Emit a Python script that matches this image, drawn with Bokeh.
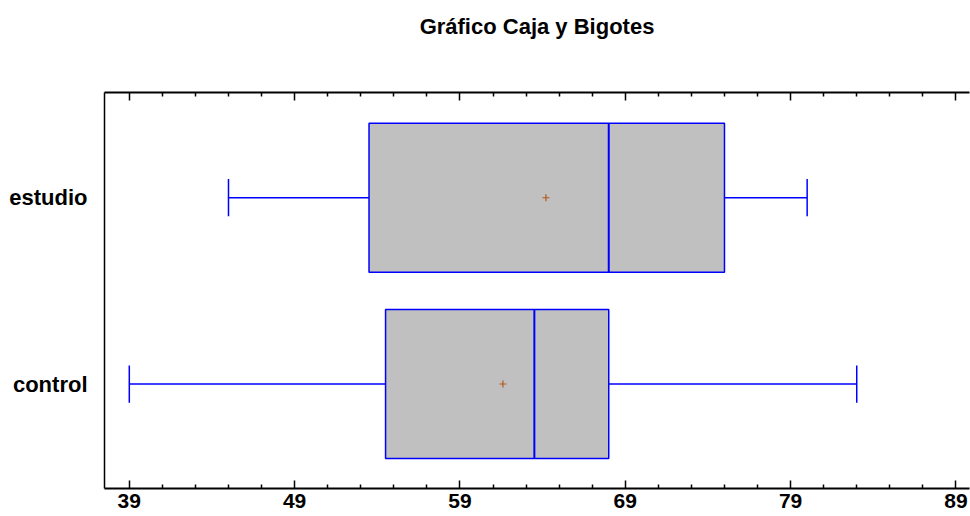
from bokeh.plotting import figure
from bokeh.models import FixedTicker, LinearAxis, Range1d
from bokeh.embed import file_html
from bokeh.resources import INLINE

# ---- data ----
categories = ["control", "estudio"]
cat_pos = [1, 2]
mins = [39, 45]
q1 = [54.5, 53.5]
medians = [63.5, 68]
q3 = [68, 75]
maxs = [83, 80]
means = [61.6, 64.2]
x_major_ticks = [39, 49, 59, 69, 79, 89]
x_minor_ticks = [41, 43, 45, 47, 51, 53, 55, 57, 61, 63, 65, 67, 71, 73, 75, 77, 81, 83, 85, 87]
title_text = "Gráfico Caja y Bigotes"

FONT = "Liberation Sans"
BLUE = "#0000FF"

p = figure(width=970, height=516, output_backend="svg", toolbar_location=None,
           x_range=Range1d(37.5, 89.82), y_range=Range1d(0.439, 2.565),
           min_border_left=104, min_border_right=1, min_border_top=92, min_border_bottom=28,
           title=None)
p.outline_line_color = None
p.grid.visible = False
p.background_fill_color = "white"
p.border_fill_color = "white"

box_h = 0.8
cap_h = 0.2

# whiskers
p.segment(x0=mins, y0=cat_pos, x1=q1, y1=cat_pos, line_color=BLUE, line_width=1.5)
p.segment(x0=q3, y0=cat_pos, x1=maxs, y1=cat_pos, line_color=BLUE, line_width=1.5)
# caps
p.segment(x0=mins, y0=[c - cap_h / 2 for c in cat_pos], x1=mins, y1=[c + cap_h / 2 for c in cat_pos],
          line_color=BLUE, line_width=1.5)
p.segment(x0=maxs, y0=[c - cap_h / 2 for c in cat_pos], x1=maxs, y1=[c + cap_h / 2 for c in cat_pos],
          line_color=BLUE, line_width=1.5)
# boxes
p.hbar(y=cat_pos, height=box_h, left=q1, right=q3, fill_color="#C0C0C0",
       line_color=BLUE, line_width=1.5)
# medians
p.segment(x0=medians, y0=[c - box_h / 2 for c in cat_pos], x1=medians, y1=[c + box_h / 2 for c in cat_pos],
          line_color=BLUE, line_width=2)
# means
p.scatter(x=means, y=cat_pos, marker="cross", size=7, line_color="#B5571C", line_width=1.2)

# bottom axis
xt = FixedTicker(ticks=x_major_ticks, minor_ticks=x_minor_ticks)
xa = p.xaxis[0]
xa.ticker = xt
xa.axis_line_width = 2
xa.axis_line_color = "black"
xa.major_tick_in = 8
xa.major_tick_out = 0
xa.minor_tick_in = 4
xa.minor_tick_out = 0
xa.major_tick_line_width = 1.5
xa.minor_tick_line_width = 1.5
xa.major_label_standoff = 5
xa.major_label_text_font = FONT
xa.major_label_text_font_style = "bold"
xa.major_label_text_font_size = "21px"
xa.major_label_text_color = "black"

# top axis: ticks only, chart title carried as its axis label
ta = LinearAxis(ticker=xt, axis_line_width=2, major_tick_in=8, major_tick_out=0,
                minor_tick_in=4, minor_tick_out=0, major_tick_line_width=1.5,
                minor_tick_line_width=1.5, major_label_standoff=0,
                major_label_text_font_size="1px",
                major_label_overrides={t: "" for t in x_major_ticks},
                axis_label=title_text, axis_label_standoff=54,
                axis_label_text_font=FONT, axis_label_text_font_style="bold",
                axis_label_text_font_size="22px", axis_label_text_color="black")
p.add_layout(ta, "above")

# left axis
ya = p.yaxis[0]
ya.ticker = FixedTicker(ticks=cat_pos)
ya.major_label_overrides = {pos: name for pos, name in zip(cat_pos, categories)}
ya.axis_line_width = 1.5
ya.major_tick_in = 0
ya.major_tick_out = 0
ya.minor_tick_in = 0
ya.minor_tick_out = 0
ya.major_label_standoff = 17
ya.major_label_text_font = FONT
ya.major_label_text_font_style = "bold"
ya.major_label_text_font_size = "22px"
ya.major_label_text_color = "black"

open("out.html", "w").write(file_html(p, INLINE))
